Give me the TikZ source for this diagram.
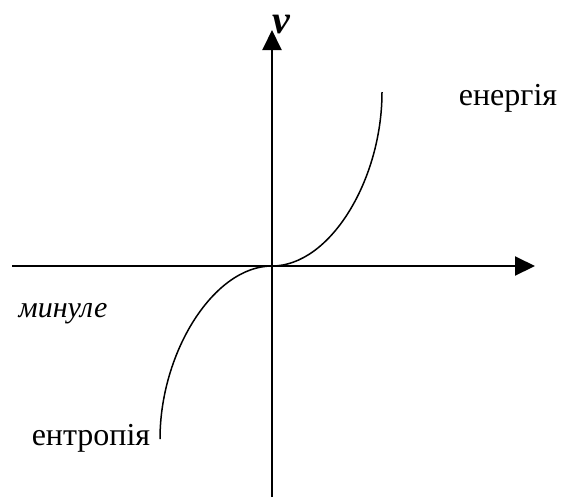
\documentclass[tikz,border=0pt]{standalone}
\usepackage{fontspec}
\setmainfont{Liberation Serif}
\usetikzlibrary{arrows.meta}
\tikzset{
  axis/.style={line width=2pt, -{Triangle[length=20pt,width=19pt]}},
  curve/.style={line width=1.5pt},
  lbl/.style={inner sep=0pt, anchor=base, font=\fontsize{32}{34}\selectfont},
}
\begin{document}
\begin{tikzpicture}[x=1pt,y=-1pt]
\useasboundingbox (0,0) rectangle (561,499);
\coordinate (xs) at (12,266);
\coordinate (xe) at (535,266);
\coordinate (ys) at (272,497);
\coordinate (ye) at (272,30);
\coordinate (o) at (272,266);
\coordinate (top) at (382,92);
\coordinate (bot) at (160,439);
\draw[axis] (xs) -- (xe);
\draw[axis] (ys) -- (ye);
\draw[curve] (o) .. controls (330,266) and (382,180) .. (top);
\draw[curve] (o) .. controls (214,266) and (160,352) .. (bot);
\node[lbl, font=\fontsize{40}{42}\selectfont\bfseries\itshape] (v) at (281,33) {v};
\node[lbl] (en) at (508,105) {енергія};
\node[lbl, font=\fontsize{30}{32}\selectfont\itshape] (mn) at (63,317) {минуле};
\node[lbl] (ent) at (91,445) {ентропія};
\end{tikzpicture}
\end{document}
